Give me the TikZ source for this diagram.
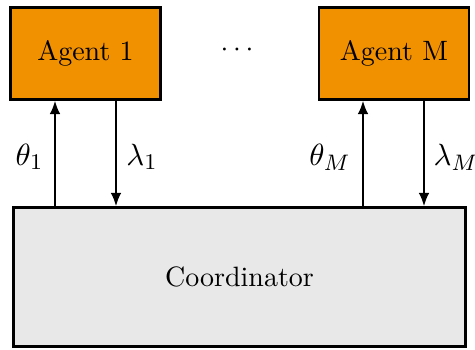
\documentclass[tikz,border=0pt]{standalone}
\usetikzlibrary{calc,arrows.meta}
\definecolor{agentorange}{RGB}{242,145,0}
\definecolor{coordgray}{RGB}{232,232,232}
\begin{document}
\begin{tikzpicture}[x=0.357pt,y=-0.357pt,
  agentbox/.style={draw=black,line width=0.8pt,fill=agentorange,minimum width=53.5pt,minimum height=32.8pt,inner sep=0pt},
  coordbox/.style={draw=black,line width=0.8pt,fill=coordgray,minimum width=161.4pt,minimum height=49.6pt,inner sep=0pt},
  lbl/.style={font=\fontsize{11}{13}\selectfont},
  arr/.style={line width=0.8pt,-{Latex[length=4.8pt,width=3.8pt]}}]
\useasboundingbox (0,0) rectangle (475,349);
\node[agentbox] (a1) at (85.5,53.5) {Agent 1};
\node[agentbox] (am) at (394,53.5) {Agent M};
\node (dots) at (237,50) {$\cdots$};
\node[coordbox] (co) at (239.5,277) {Coordinator};
\coordinate (t1) at ($(a1.south)+(-30.5,0)$);
\coordinate (l1) at ($(a1.south)+(30.5,0)$);
\coordinate (tm) at ($(am.south)+(-31,0)$);
\coordinate (lm) at ($(am.south)+(30,0)$);
\draw[arr] (co.north -| t1) -- (t1);
\draw[arr] (l1) -- (co.north -| l1);
\draw[arr] (co.north -| tm) -- (tm);
\draw[arr] (lm) -- (co.north -| lm);
\node[lbl] (lt1) at (29.5,157) {$\theta_1$};
\node[lbl] (ll1) at (142,157) {$\lambda_1$};
\node[lbl] (ltm) at (330,157) {$\theta_M$};
\node[lbl] (llm) at (456,157) {$\lambda_M$};
\end{tikzpicture}
\end{document}
